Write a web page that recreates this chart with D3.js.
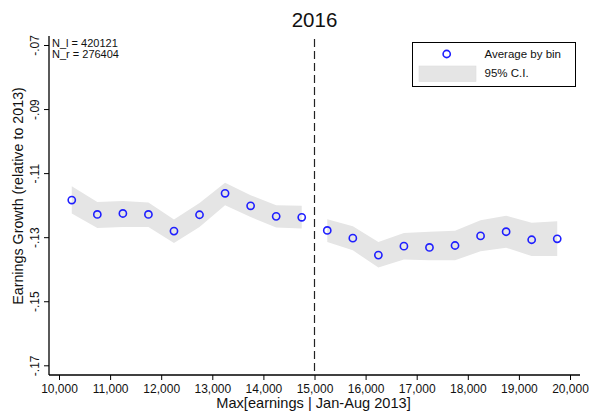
<!DOCTYPE html>
<html>
<head>
<meta charset="utf-8">
<script src="https://cdn.jsdelivr.net/npm/d3@7"></script>
<style>
  html, body { margin: 0; padding: 0; background: #fff; }
  svg { display: block; font-family: Arial, "Liberation Sans", sans-serif; }
</style>
</head>
<body>
<svg id="chart" width="589" height="414"></svg>
<script>
// Bin midpoints (max earnings Jan-Aug 2013)
const binsLeft  = [10250, 10750, 11250, 11750, 12250, 12750, 13250, 13750, 14250, 14750];
const binsRight = [15250, 15750, 16250, 16750, 17250, 17750, 18250, 18750, 19250, 19750];

// Average earnings growth by bin
const meanLeft  = [-0.1184, -0.1229, -0.1226, -0.1229, -0.1281, -0.1230, -0.1163, -0.1202, -0.1235, -0.1238];
const meanRight = [-0.1279, -0.1303, -0.1356, -0.1328, -0.1332, -0.1326, -0.1296, -0.1283, -0.1308, -0.1305];

// 95% confidence interval bounds
const ciHiLeft  = [-0.1141, -0.1190, -0.1187, -0.1192, -0.1245, -0.1193, -0.1130, -0.1169, -0.1200, -0.1202];
const ciLoLeft  = [-0.1226, -0.1271, -0.1268, -0.1268, -0.1318, -0.1268, -0.1200, -0.1237, -0.1270, -0.1273];
const ciHiRight = [-0.1244, -0.1266, -0.1315, -0.1287, -0.1283, -0.1280, -0.1247, -0.1233, -0.1255, -0.1250];
const ciLoRight = [-0.1315, -0.1341, -0.1395, -0.1370, -0.1372, -0.1372, -0.1344, -0.1333, -0.1359, -0.1359];

const xTicks = [10000, 11000, 12000, 13000, 14000, 15000, 16000, 17000, 18000, 19000, 20000];
const yTicks = [-0.17, -0.15, -0.13, -0.11, -0.09, -0.07];
const yTickLabels = ["-.17", "-.15", "-.13", "-.11", "-.09", "-.07"];
const cutoff = 15000;
const sampleNotes = ["N_l = 420121", "N_r = 276404"];
const legendLabels = ["Average by bin", "95% C.I."];

const svg = d3.select("#chart");
const plot = { left: 49, right: 580, top: 36, bottom: 375 };

const x = d3.scaleLinear().domain([10000, 20000]).range([59, 570]);
const y = d3.scaleLinear().domain([-0.17, -0.07]).range([365.3, 45]);

const blue = "#1f1fff";
const bandFill = "#e5e5e5";

// Confidence bands, one on each side of the cutoff
const area = d3.area()
  .x(d => x(d.x))
  .y0(d => y(d.lo))
  .y1(d => y(d.hi));

function rows(bins, mean, hi, lo) {
  return bins.map((b, i) => ({ x: b, m: mean[i], hi: hi[i], lo: lo[i] }));
}
const left = rows(binsLeft, meanLeft, ciHiLeft, ciLoLeft);
const right = rows(binsRight, meanRight, ciHiRight, ciLoRight);

svg.append("g").selectAll("path")
  .data([left, right])
  .join("path")
  .attr("d", area)
  .attr("fill", bandFill)
  .attr("stroke", "none");

// Cutoff line
svg.append("line")
  .attr("x1", x(cutoff)).attr("x2", x(cutoff))
  .attr("y1", 39).attr("y2", plot.bottom)
  .attr("stroke", "#222")
  .attr("stroke-width", 1.2)
  .attr("stroke-dasharray", "8,4");

// Bin averages
svg.append("g").selectAll("circle")
  .data(left.concat(right))
  .join("circle")
  .attr("cx", d => x(d.x))
  .attr("cy", d => y(d.m))
  .attr("r", 3.6)
  .attr("fill", "none")
  .attr("stroke", blue)
  .attr("stroke-width", 1.6);

// X axis
const xAxis = svg.append("g")
  .attr("transform", `translate(0,${plot.bottom})`)
  .call(d3.axisBottom(x).tickValues(xTicks).tickSize(5).tickSizeOuter(0)
    .tickFormat(d3.format(",")));
xAxis.select(".domain").remove();
xAxis.selectAll(".tick line").attr("stroke", "#000");
xAxis.selectAll(".tick text")
  .attr("y", 17.5).attr("dy", 0)
  .attr("font-size", 12)
  .attr("font-family", "Arial, 'Liberation Sans', sans-serif")
  .attr("fill", "#111");
svg.append("line")
  .attr("x1", plot.left).attr("x2", plot.right)
  .attr("y1", plot.bottom).attr("y2", plot.bottom)
  .attr("stroke", "#000").attr("stroke-width", 1.3);

// Y axis
const yAxis = svg.append("g")
  .attr("transform", `translate(${plot.left},0)`)
  .call(d3.axisLeft(y).tickValues(yTicks).tickSize(5).tickSizeOuter(0)
    .tickFormat((d, i) => yTickLabels[i]));
yAxis.select(".domain").remove();
yAxis.selectAll(".tick line").attr("stroke", "#000");
yAxis.selectAll(".tick text")
  .attr("x", null).attr("dy", null)
  .attr("transform", "translate(-10,0) rotate(-90)")
  .attr("text-anchor", "middle")
  .attr("font-size", 12)
  .attr("font-family", "Arial, 'Liberation Sans', sans-serif")
  .attr("fill", "#111");
svg.append("line")
  .attr("x1", plot.left).attr("x2", plot.left)
  .attr("y1", plot.top).attr("y2", plot.bottom)
  .attr("stroke", "#000").attr("stroke-width", 1.3);

// Titles
svg.append("text")
  .attr("x", 314.5).attr("y", 27)
  .attr("text-anchor", "middle")
  .attr("font-size", 20.5)
  .attr("fill", "#111")
  .text("2016");

svg.append("text")
  .attr("x", 313.5).attr("y", 408)
  .attr("text-anchor", "middle")
  .attr("font-size", 14.6)
  .attr("fill", "#111")
  .text("Max[earnings | Jan-Aug 2013]");

svg.append("text")
  .attr("transform", "translate(23,196) rotate(-90)")
  .attr("text-anchor", "middle")
  .attr("font-size", 14.3)
  .attr("fill", "#111")
  .text("Earnings Growth (relative to 2013)");

// Sample sizes
svg.append("g").selectAll("text")
  .data(sampleNotes)
  .join("text")
  .attr("x", 52).attr("y", (d, i) => 46.7 + i * 11.6)
  .attr("font-size", 11)
  .attr("fill", "#111")
  .text(d => d);

// Legend
const lg = svg.append("g");
lg.append("rect")
  .attr("x", 412.5).attr("y", 42.5)
  .attr("width", 163).attr("height", 44)
  .attr("fill", "#fff").attr("stroke", "#000").attr("stroke-width", 1);
lg.append("circle")
  .attr("cx", 446.7).attr("cy", 54)
  .attr("r", 3.6)
  .attr("fill", "none").attr("stroke", blue).attr("stroke-width", 1.6);
lg.append("rect")
  .attr("x", 419).attr("y", 66)
  .attr("width", 57).attr("height", 15.5)
  .attr("fill", bandFill).attr("stroke", "#dcdcdc").attr("stroke-width", 0.6);
lg.selectAll("text.lab")
  .data(legendLabels)
  .join("text")
  .attr("class", "lab")
  .attr("x", 484.5).attr("y", (d, i) => 57.6 + i * 19.5)
  .attr("font-size", 11.5)
  .attr("fill", "#111")
  .text(d => d);
</script>
</body>
</html>
